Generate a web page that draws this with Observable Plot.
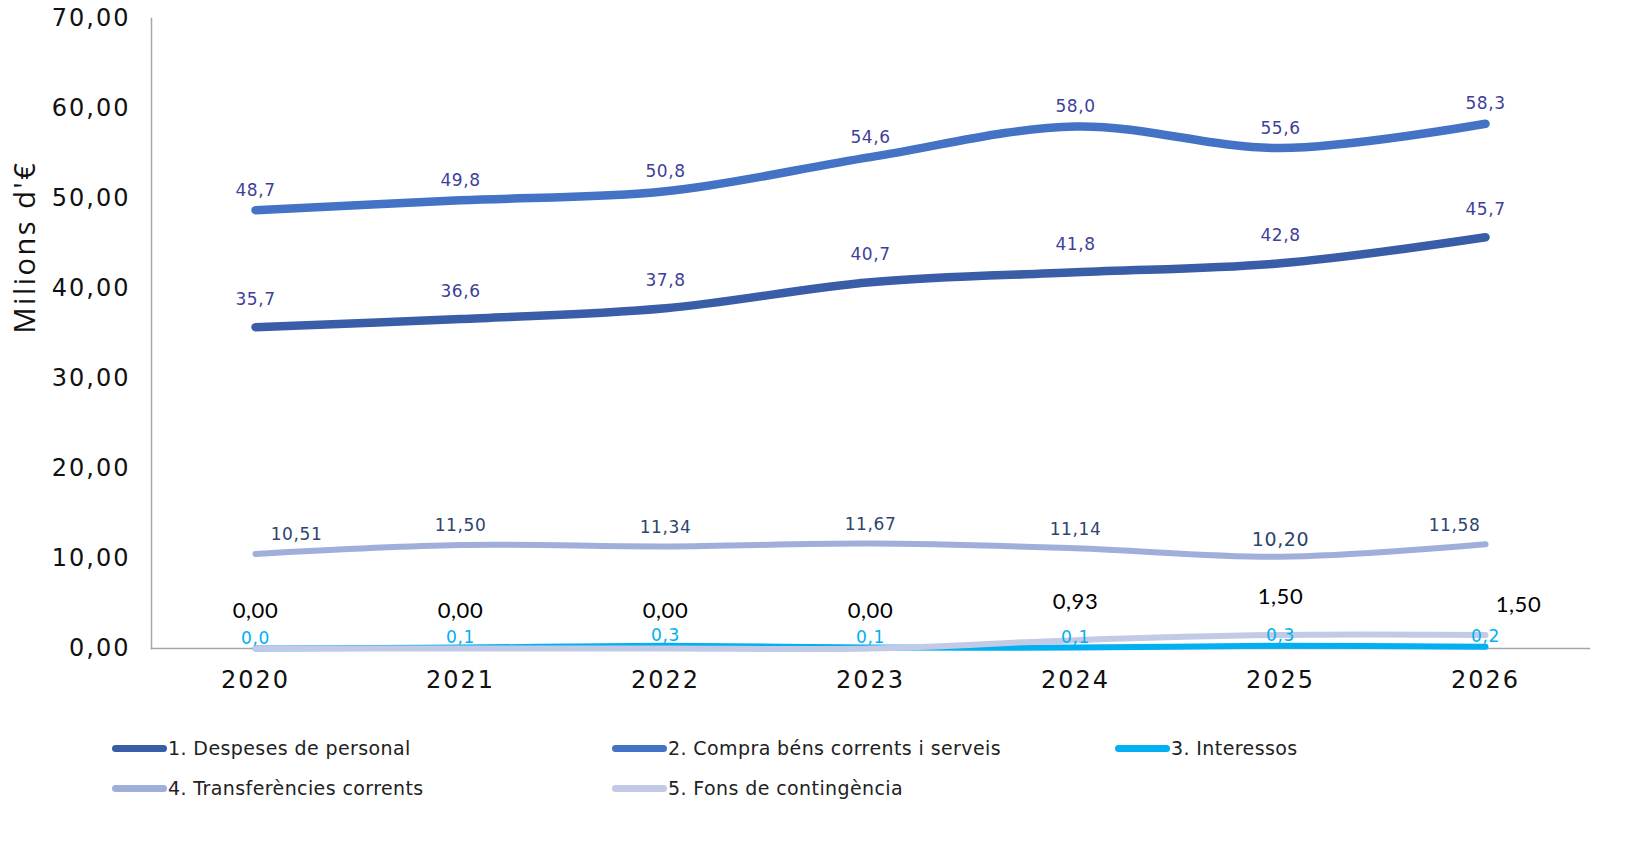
<!DOCTYPE html>
<html>
<head>
<meta charset="utf-8">
<script src="https://cdn.jsdelivr.net/npm/d3@7"></script>
<script src="https://cdn.jsdelivr.net/npm/@observablehq/plot@0.6"></script>
<style>
  body { margin: 0; background: #fff; font-family: "DejaVu Sans", Verdana, sans-serif; }
  #wrap { position: relative; width: 1651px; height: 844px; }
  .leg { position: absolute; display: flex; align-items: center; font-size: 19px; letter-spacing: 0.4px; color: #222; white-space: nowrap; }
  .sw { display: inline-block; width: 55px; height: 7px; border-radius: 4px; margin-right: 1px; }
  g[aria-label="y-axis tick label"] text, g[aria-label="x-axis tick label"] text { letter-spacing: 2px; }
  .lbl text { letter-spacing: 0.6px; }
  .ylab text { letter-spacing: 2.5px; }
</style>
</head>
<body>
<div id="wrap"><div id="chart"></div></div>
<script>
const years = ["2020", "2021", "2022", "2023", "2024", "2025", "2026"];
const seriesNames = [
  "1. Despeses de personal",
  "2. Compra béns corrents i serveis",
  "3. Interessos",
  "4. Transferències corrents",
  "5. Fons de contingència"
];
const personal = [35.7, 36.6, 37.8, 40.7, 41.8, 42.8, 45.7];
const compra = [48.7, 49.8, 50.8, 54.6, 58.0, 55.6, 58.3];
const interessos = [0.0, 0.1, 0.3, 0.1, 0.1, 0.3, 0.2];
const transferencies = [10.51, 11.50, 11.34, 11.67, 11.14, 10.20, 11.58];
const fons = [0.00, 0.00, 0.00, 0.00, 0.93, 1.50, 1.50];
const yTicks = [0, 10, 20, 30, 40, 50, 60, 70];
const colors = ["#3A5DA8", "#4472C4", "#00B0F0", "#A0AEDA", "#C2CAE6"];

const allSeries = [personal, compra, interessos, transferencies, fons];
const rows = (vals, s) => vals.map((v, i) => ({ year: years[i], value: v, series: s, i }));
const fmt = (d) => (v) => v.toFixed(d).replace(".", ",");

const lineWidths = [8.5, 8.5, 6, 6, 6];
const lines = allSeries.map((vals, s) =>
  Plot.line(rows(vals, s), {
    x: "year", y: "value", stroke: colors[s], strokeWidth: lineWidths[s],
    curve: "catmull-rom", strokeLinecap: "round"
  })
);

const tRows = rows(transferencies, 3);
const fRows = rows(fons, 4);
const transfText = (filter, opts) => Plot.text(tRows, {
  x: "year", y: "value", text: (d) => fmt(2)(d.value), filter,
  dy: -19, fontSize: 17, fill: "#2F4470", className: "lbl", ...opts
});

const verd = "DejaVu Sans, Verdana, sans-serif";
const plot = Plot.plot({
  width: 1651,
  height: 700,
  marginLeft: 151,
  marginRight: 62,
  marginTop: 18,
  marginBottom: 52,
  style: { fontFamily: verd, background: "#fff" },
  x: { type: "point", domain: years, padding: 0.5 },
  y: { domain: [0, 70] },
  marks: [
    Plot.axisY({ ticks: yTicks, tickFormat: fmt(2), tickSize: 0, tickPadding: 21, fontSize: 24, fill: "#111", label: null }),
    Plot.axisX({ tickSize: 0, tickPadding: 22, fontSize: 24, fill: "#111", label: null }),
    Plot.text(["Milions d'€"], { frameAnchor: "left", dx: -126, rotate: -90, fontSize: 29, fontFamily: "Open Sans, sans-serif", fill: "#111", className: "ylab" }),
    Plot.frame({ anchor: "left", stroke: "#A6A6A6", strokeWidth: 1.5 }),
    Plot.frame({ anchor: "bottom", stroke: "#A6A6A6", strokeWidth: 1.5 }),
    ...lines,
    Plot.text(rows(personal, 0), { x: "year", y: "value", text: (d) => fmt(1)(d.value), dy: -28, fontSize: 17, fill: "#3F3F9A", className: "lbl" }),
    Plot.text(rows(compra, 1), { x: "year", y: "value", text: (d) => fmt(1)(d.value), dy: -20, fontSize: 17, fill: "#3F3F9A", className: "lbl" }),
    transfText((d) => d.i > 0 && d.i < 5, {}),
    transfText((d) => d.i === 0, { dx: 41 }),
    transfText((d) => d.i === 5, { fontSize: 19, dy: -17 }),
    transfText((d) => d.i === 6, { dx: -31 }),
    Plot.text(rows(interessos, 2), { x: "year", y: "value", text: (d) => fmt(1)(d.value), dy: -10, fontSize: 17, fill: "#00B0F0", className: "lbl" }),
    Plot.text(fRows, { x: "year", y: "value", text: (d) => fmt(2)(d.value), filter: (d) => d.i < 6, dy: -38, fontSize: 22, fontFamily: "Lato, sans-serif", fill: "#000", className: "lbl" }),
    Plot.text(fRows, { x: "year", y: "value", text: (d) => fmt(2)(d.value), filter: (d) => d.i === 6, dx: 33, dy: -30, fontSize: 22, fontFamily: "Lato, sans-serif", fill: "#000", className: "lbl" })
  ]
});

document.getElementById("chart").appendChild(plot);

// legend
const wrap = document.getElementById("wrap");
const legPos = [[112, 749], [612, 749], [1115, 749], [112, 789], [612, 789]];
seriesNames.forEach((name, s) => {
  const d = document.createElement("div");
  d.className = "leg";
  d.style.left = legPos[s][0] + "px";
  d.style.top = (legPos[s][1] - 12) + "px";
  d.innerHTML = `<span class="sw" style="background:${colors[s]}"></span>${name}`;
  wrap.appendChild(d);
});
</script>
</body>
</html>
